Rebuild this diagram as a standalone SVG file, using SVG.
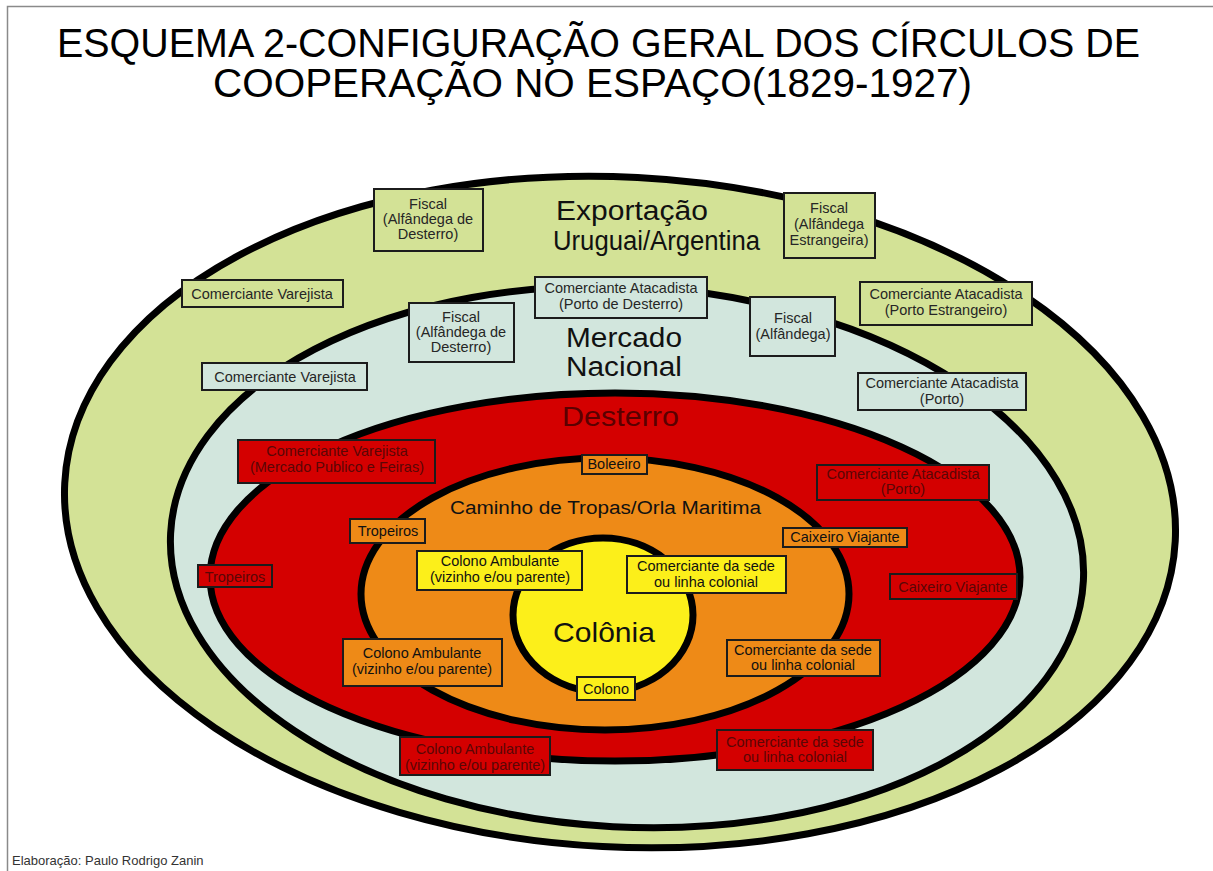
<svg xmlns="http://www.w3.org/2000/svg" width="1213" height="871" viewBox="0 0 1213 871">
<style>
.zone{stroke:#000;stroke-width:7}
.g{fill:#d3e296}.b{fill:#d2e6dd}.r{fill:#d40000}.o{fill:#ee8a17}.y{fill:#fcef1a}
.box{stroke:#1c1c1c;stroke-width:2}
text{font-family:"Liberation Sans",Arial,sans-serif}
.t{font-size:14.5px;fill:#262626;text-anchor:middle}
.tr{font-size:14.5px;fill:#5a0606;text-anchor:middle}
.big{font-size:27px;fill:#111}
.title{font-size:40px;fill:#000}
</style>
<rect width="1213" height="871" fill="#fff"/>
<path d="M7.5 871V6.5H1213" fill="none" stroke="#8a8a8a" stroke-width="1.5"/>
<g id="title">
<text class="title" x="57" y="57" textLength="1083" lengthAdjust="spacingAndGlyphs">ESQUEMA 2-CONFIGURAÇÃO GERAL DOS CÍRCULOS DE</text>
<text class="title" x="213" y="97" textLength="759" lengthAdjust="spacingAndGlyphs">COOPERAÇÃO NO ESPAÇO(1829-1927)</text>
</g>
<g id="zones">
<ellipse id="zone-exportacao" class="zone g" cx="620" cy="512" rx="556" ry="335" transform="rotate(3 620 512)"/>
<ellipse id="zone-mercado" class="zone b" cx="627" cy="557" rx="457" ry="270" transform="rotate(3 627 557)"/>
<ellipse id="zone-desterro" class="zone r" cx="615" cy="577" rx="405" ry="184"/>
<ellipse id="zone-caminho" class="zone o" cx="605" cy="594" rx="244" ry="136"/>
<ellipse id="zone-colonia" class="zone y" cx="603" cy="615" rx="90" ry="77" stroke-width="6"/>
</g>
<g id="zone-labels">
<text class="big" x="556" y="220" textLength="152" lengthAdjust="spacingAndGlyphs">Exportação</text>
<text class="big" x="553" y="250" textLength="207" lengthAdjust="spacingAndGlyphs">Uruguai/Argentina</text>
<text class="big" x="566" y="347" textLength="116" lengthAdjust="spacingAndGlyphs">Mercado</text>
<text class="big" x="566" y="376" textLength="116" lengthAdjust="spacingAndGlyphs">Nacional</text>
<text class="big" x="562" y="426" textLength="117" lengthAdjust="spacingAndGlyphs" style="fill:#5a0000">Desterro</text>
<text class="big" x="450" y="514" textLength="311" lengthAdjust="spacingAndGlyphs" style="font-size:18px">Caminho de Tropas/Orla Maritima</text>
<text class="big" x="553" y="642" textLength="102" lengthAdjust="spacingAndGlyphs" style="font-size:28px">Colônia</text>
</g>
<g id="node-g1"><rect class="box g" x="374" y="189" width="109" height="62"/><text class="t"><tspan x="428" y="209">Fiscal</tspan><tspan x="428" y="224">(Alfândega de</tspan><tspan x="428" y="239">Desterro)</tspan></text></g>
<g id="node-g2"><rect class="box g" x="784" y="193" width="91" height="65"/><text class="t"><tspan x="829" y="213">Fiscal</tspan><tspan x="829" y="229">(Alfândega</tspan><tspan x="829" y="245">Estrangeira)</tspan></text></g>
<g id="node-g3"><rect class="box g" x="182" y="280" width="161" height="27"/><text class="t" x="262" y="299">Comerciante Varejista</text></g>
<g id="node-g4"><rect class="box g" x="860" y="282" width="172" height="43"/><text class="t"><tspan x="946" y="299">Comerciante Atacadista</tspan><tspan x="946" y="315">(Porto Estrangeiro)</tspan></text></g>
<g id="node-b1"><rect class="box b" x="535" y="277" width="172" height="41"/><text class="t"><tspan x="621" y="293">Comerciante Atacadista</tspan><tspan x="621" y="309">(Porto de Desterro)</tspan></text></g>
<g id="node-b2"><rect class="box b" x="750" y="297" width="85" height="59"/><text class="t"><tspan x="793" y="323">Fiscal</tspan><tspan x="793" y="339">(Alfândega)</tspan></text></g>
<g id="node-b3"><rect class="box b" x="409" y="303" width="105" height="59"/><text class="t"><tspan x="461" y="322">Fiscal</tspan><tspan x="461" y="337">(Alfândega de</tspan><tspan x="461" y="352">Desterro)</tspan></text></g>
<g id="node-b4"><rect class="box b" x="202" y="363" width="165" height="27"/><text class="t" x="285" y="382">Comerciante Varejista</text></g>
<g id="node-b5"><rect class="box b" x="858" y="373" width="168" height="37"/><text class="t"><tspan x="942" y="388">Comerciante Atacadista</tspan><tspan x="942" y="404">(Porto)</tspan></text></g>
<g id="node-r1"><rect class="box r" x="238" y="440" width="197" height="43"/><text class="tr"><tspan x="337" y="456">Comerciante Varejista</tspan><tspan x="337" y="472">(Mercado Publico e Feiras)</tspan></text></g>
<g id="node-r2"><rect class="box r" x="198" y="565" width="74" height="22"/><text class="tr" x="235" y="582">Tropeiros</text></g>
<g id="node-r3"><rect class="box r" x="817" y="465" width="172" height="35"/><text class="tr"><tspan x="903" y="479">Comerciante Atacadista</tspan><tspan x="903" y="494">(Porto)</tspan></text></g>
<g id="node-r4"><rect class="box r" x="890" y="574" width="127" height="25"/><text class="tr" x="953" y="592">Caixeiro Viajante</text></g>
<g id="node-r5"><rect class="box r" x="400" y="737" width="150" height="38"/><text class="tr"><tspan x="475" y="754">Colono Ambulante</tspan><tspan x="475" y="770">(vizinho e/ou parente)</tspan></text></g>
<g id="node-r6"><rect class="box r" x="717" y="730" width="156" height="40"/><text class="tr"><tspan x="795" y="747">Comerciante da sede</tspan><tspan x="795" y="762">ou linha colonial</tspan></text></g>
<g id="node-o1"><rect class="box o" x="582" y="455" width="65" height="19"/><text class="t" x="614" y="469" style="fill:#111">Boleeiro</text></g>
<g id="node-o2"><rect class="box o" x="350" y="519" width="75" height="24"/><text class="t" x="388" y="536" style="fill:#111">Tropeiros</text></g>
<g id="node-o3"><rect class="box o" x="783" y="528" width="124" height="19"/><text class="t" x="845" y="542" style="fill:#111">Caixeiro Viajante</text></g>
<g id="node-o4"><rect class="box o" x="343" y="639" width="159" height="47"/><text class="t" style="fill:#111"><tspan x="422" y="658">Colono Ambulante</tspan><tspan x="422" y="674">(vizinho e/ou parente)</tspan></text></g>
<g id="node-o5"><rect class="box o" x="727" y="640" width="153" height="36"/><text class="t" style="fill:#111"><tspan x="803" y="655">Comerciante da sede</tspan><tspan x="803" y="670">ou linha colonial</tspan></text></g>
<g id="node-y1"><rect class="box y" x="417" y="551" width="165" height="39"/><text class="t" style="fill:#111"><tspan x="500" y="566">Colono Ambulante</tspan><tspan x="500" y="582">(vizinho e/ou parente)</tspan></text></g>
<g id="node-y2"><rect class="box y" x="627" y="556" width="159" height="37"/><text class="t" style="fill:#111"><tspan x="706" y="571">Comerciante da sede</tspan><tspan x="706" y="587">ou linha colonial</tspan></text></g>
<g id="node-y3"><rect class="box y" x="577" y="677" width="58" height="23"/><text class="t" x="606" y="694" style="fill:#111">Colono</text></g>
<text x="12" y="865" style="font-size:13px;fill:#333">Elaboração: Paulo Rodrigo Zanin</text>
</svg>
